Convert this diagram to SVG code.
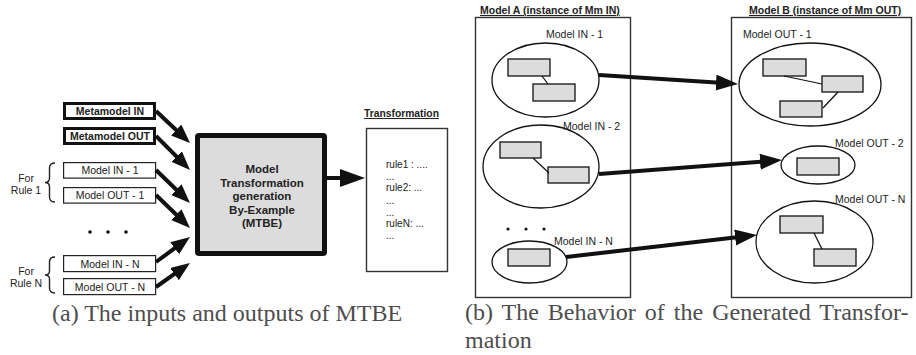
<svg xmlns="http://www.w3.org/2000/svg" width="916" height="355" viewBox="0 0 916 355">
<style>
text{font-family:"Liberation Sans",Arial,sans-serif;fill:#222}
.b{font-weight:bold}
.s{font-size:10.5px}
.m{font-size:11.5px;font-weight:bold}
.u{text-decoration:underline}
.cap{font-family:"Liberation Serif","Times New Roman",serif;font-size:24px;fill:#4d4d4d}
.thick{fill:#fff;stroke:#111;stroke-width:3}
.thin{fill:#fff;stroke:#222;stroke-width:1.2}
.frame{fill:#fff;stroke:#333;stroke-width:1.4}
.ell{fill:none;stroke:#111;stroke-width:1.3}
.obj{fill:#dcdcdc;stroke:#111;stroke-width:1.3}
.link{stroke:#111;stroke-width:1.2}
.arr{stroke:#111;stroke-width:4;fill:none}
.brace{fill:none;stroke:#222;stroke-width:1.4}
</style>
<defs>
<marker id="ah" markerUnits="userSpaceOnUse" markerWidth="20" markerHeight="16" refX="4" refY="7.5" orient="auto"><path d="M0,0 L19,7.5 L0,15 z" fill="#111"/></marker>
<marker id="ahBig" markerUnits="userSpaceOnUse" markerWidth="28" markerHeight="20" refX="5" refY="9" orient="auto"><path d="M0,0 L25,9 L0,18 z" fill="#111"/></marker>
<marker id="ahR" markerUnits="userSpaceOnUse" markerWidth="24" markerHeight="18" refX="4" refY="8" orient="auto"><path d="M0,0 L22,8 L0,16 z" fill="#111"/></marker>
</defs>

<!-- Left panel -->
<g id="metamodel-in"><rect class="thick" x="64.5" y="103.5" width="90" height="15"/><text class="b s" x="110" y="115" text-anchor="middle">Metamodel IN</text></g>
<g id="metamodel-out"><rect class="thick" x="64.5" y="128.5" width="90" height="15"/><text class="b s" x="110" y="140" text-anchor="middle">Metamodel OUT</text></g>
<g id="model-in-1"><rect class="thin" x="63.6" y="162.6" width="92" height="15.5"/><text class="s" x="110" y="174" text-anchor="middle">Model IN - 1</text></g>
<g id="model-out-1"><rect class="thin" x="63.6" y="187.6" width="92" height="15.5"/><text class="s" x="110" y="199" text-anchor="middle">Model OUT - 1</text></g>
<g id="model-in-n"><rect class="thin" x="63.6" y="255.6" width="92" height="16"/><text class="s" x="110" y="267.5" text-anchor="middle">Model IN - N</text></g>
<g id="model-out-n"><rect class="thin" x="63.6" y="278.6" width="92" height="16"/><text class="s" x="110" y="290.5" text-anchor="middle">Model OUT - N</text></g>
<g id="rule1-label"><text class="s" x="26" y="182" text-anchor="middle">For</text><text class="s" x="26" y="194" text-anchor="middle">Rule 1</text><path class="brace" d="M55,163 Q49.5,163 49.5,168 L49.5,178 Q49.5,182.5 45,182.5 Q49.5,182.5 49.5,187 L49.5,197 Q49.5,202 55,202"/></g>
<g id="ruleN-label"><text class="s" x="26" y="275" text-anchor="middle">For</text><text class="s" x="26" y="287" text-anchor="middle">Rule N</text><path class="brace" d="M55,257 Q49.5,257 49.5,262 L49.5,271 Q49.5,275 45,275 Q49.5,275 49.5,279 L49.5,288 Q49.5,293 55,293"/></g>
<g id="left-dots" fill="#111"><circle cx="90" cy="232" r="1.8"/><circle cx="108" cy="232" r="1.8"/><circle cx="126" cy="232" r="1.8"/></g>

<g id="mtbe"><rect x="197.5" y="135.5" width="127" height="118" fill="#dcdcdc" stroke="#111" stroke-width="5" rx="1.5"/>
<text class="m" x="262" y="173" text-anchor="middle">Model</text>
<text class="m" x="262" y="186.5" text-anchor="middle">Transformation</text>
<text class="m" x="262" y="200" text-anchor="middle">generation</text>
<text class="m" x="262" y="213.5" text-anchor="middle">By-Example</text>
<text class="m" x="262" y="227" text-anchor="middle">(MTBE)</text></g>

<g id="transformation"><text class="b u" x="364" y="117" font-size="10.3">Transformation</text>
<rect class="frame" x="366.5" y="128.5" width="81" height="143"/>
<g font-size="10" fill="#333"><text x="386" y="168">rule1 : ....</text><text x="386" y="180">...</text><text x="386" y="191">rule2: ...</text><text x="386" y="204">...</text><text x="386" y="216">...</text><text x="386" y="227">ruleN: ...</text><text x="386" y="239">...</text></g></g>

<!-- Right panel -->
<g id="model-a"><text class="b u" x="480" y="14" font-size="10.5">Model A (instance of Mm IN)</text><rect class="frame" x="475.5" y="17.5" width="155" height="280"/></g>
<g id="model-b"><text class="b u" x="749" y="14" font-size="10.5">Model B (instance of Mm OUT)</text><rect class="frame" x="731.5" y="17.5" width="180" height="280"/></g>

<g id="in-1"><text class="s" x="546" y="38">Model IN - 1</text><ellipse class="ell" cx="545.5" cy="80" rx="53.5" ry="37"/><rect class="obj" x="508" y="59" width="42" height="17"/><rect class="obj" x="533" y="84" width="42" height="17"/><line class="link" x1="542" y1="76" x2="548" y2="84"/></g>
<g id="in-2"><ellipse class="ell" cx="541" cy="166.5" rx="58" ry="41.5"/><text class="s" x="563" y="130">Model IN - 2</text><rect class="obj" x="500" y="142" width="41" height="16"/><rect class="obj" x="548" y="167" width="41" height="16"/><line class="link" x1="533" y1="158" x2="549" y2="173"/></g>
<g id="right-dots" fill="#111"><circle cx="508" cy="229" r="1.6"/><circle cx="526" cy="229" r="1.6"/><circle cx="544" cy="229" r="1.6"/></g>
<g id="in-n"><text class="s" x="554" y="245">Model IN - N</text><ellipse class="ell" cx="529.5" cy="262" rx="37.5" ry="21"/><rect class="obj" x="508" y="249" width="42" height="17"/></g>

<g id="out-1"><text class="s" x="743" y="38">Model OUT - 1</text><ellipse class="ell" cx="810" cy="84.5" rx="71" ry="41.5"/><rect class="obj" x="763" y="59" width="43" height="17"/><rect class="obj" x="822" y="76" width="41" height="16"/><rect class="obj" x="780" y="101" width="42" height="16"/><line class="link" x1="784" y1="76" x2="822" y2="84"/><line class="link" x1="838" y1="92" x2="823" y2="108"/></g>
<g id="out-2"><ellipse class="ell" cx="818" cy="165" rx="37" ry="19"/><text class="s" x="835" y="147">Model OUT - 2</text><rect class="obj" x="797" y="158" width="42" height="17"/></g>
<g id="out-n"><text class="s" x="835" y="203">Model OUT - N</text><ellipse class="ell" cx="814.5" cy="242" rx="58.5" ry="41"/><rect class="obj" x="780" y="216" width="43" height="17"/><rect class="obj" x="814" y="249" width="42" height="17"/><line class="link" x1="814" y1="233" x2="822" y2="249"/></g>

<g id="connectors">
<line class="arr" x1="156" y1="111" x2="179.1" y2="132.7" marker-end="url(#ah)"/>
<line class="arr" x1="156" y1="136" x2="179.4" y2="159.4" marker-end="url(#ah)"/>
<line class="arr" x1="156" y1="170" x2="179.2" y2="192.5" marker-end="url(#ah)"/>
<line class="arr" x1="156" y1="195" x2="179.2" y2="217.5" marker-end="url(#ah)"/>
<line class="arr" x1="156" y1="262" x2="177.9" y2="245.9" marker-end="url(#ah)"/>
<line class="arr" x1="156" y1="287" x2="177.7" y2="271.7" marker-end="url(#ah)"/>
<line class="arr" x1="327" y1="178" x2="345" y2="178" stroke-width="5" marker-end="url(#ahBig)"/>
<line class="arr" x1="599" y1="75" x2="720" y2="82.85" marker-end="url(#ahR)"/>
<line class="arr" x1="599" y1="174" x2="764.05" y2="161.37" marker-end="url(#ahR)"/>
<line class="arr" x1="566" y1="257" x2="739.1" y2="237.1" marker-end="url(#ahR)"/>
</g>

<g id="captions">
<text class="cap" x="52" y="321">(a) The inputs and outputs of MTBE</text>
<text class="cap" x="465" y="320" word-spacing="3">(b) The Behavior of the Generated Transfor-</text>
<text class="cap" x="465" y="348">mation</text>
</g>
</svg>
